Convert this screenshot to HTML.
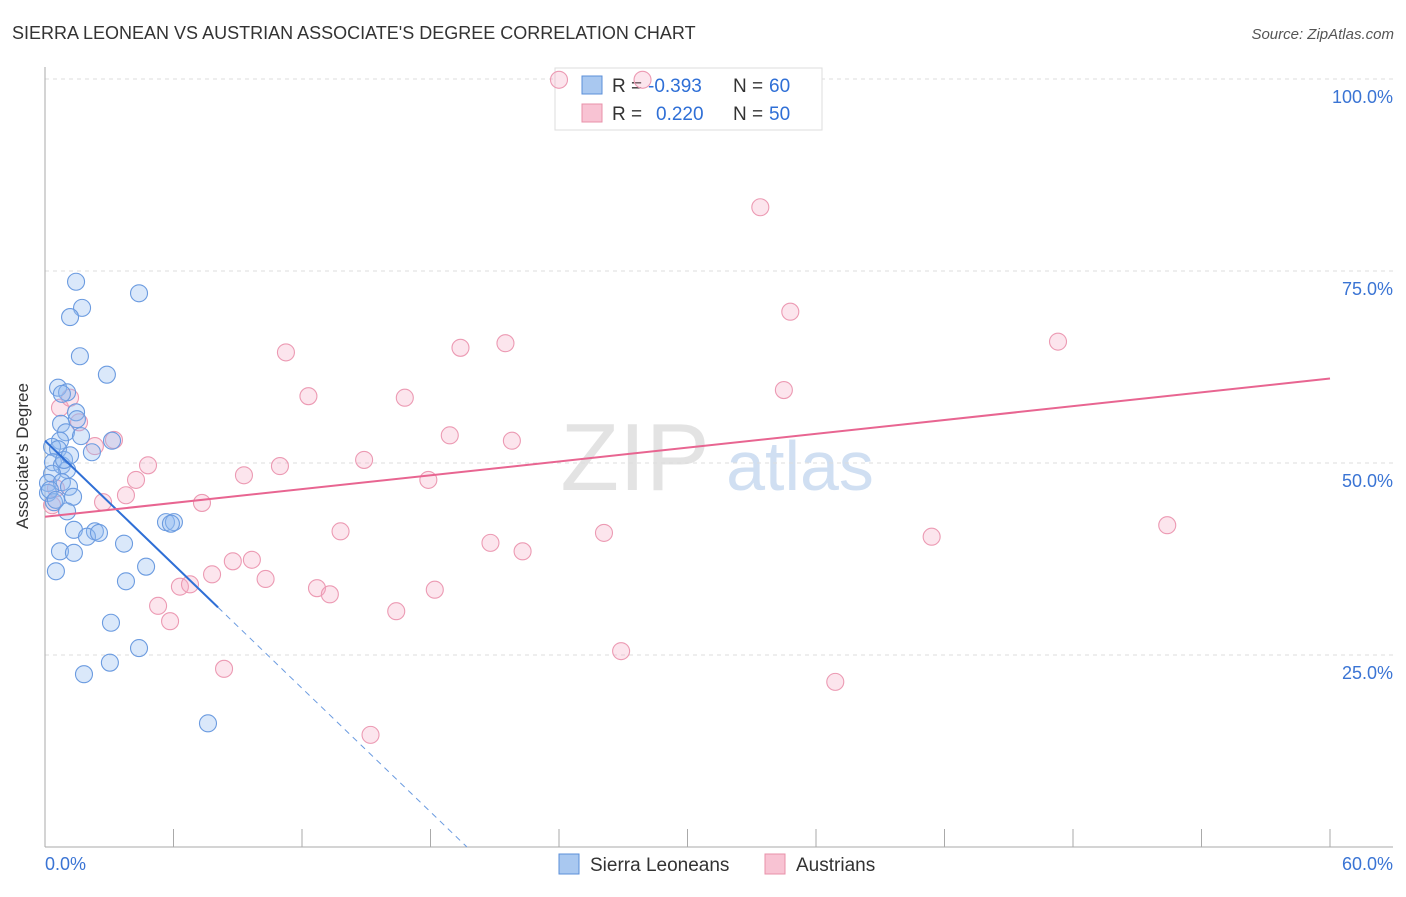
<!DOCTYPE html>
<html><head><meta charset="utf-8">
<style>
body{margin:0;background:#fff;font-family:"Liberation Sans",sans-serif;}
svg text{font-family:"Liberation Sans",sans-serif;}
</style></head>
<body>
<svg id="chart" width="1406" height="892" viewBox="0 0 1406 892" xmlns="http://www.w3.org/2000/svg">
<text x="12" y="39" font-size="18" fill="#333">SIERRA LEONEAN VS AUSTRIAN ASSOCIATE'S DEGREE CORRELATION CHART</text>
<text x="1394" y="39" font-size="15" fill="#555" font-style="italic" text-anchor="end">Source: ZipAtlas.com</text>
<g>
<text x="635" y="490" font-size="96" fill="#ddd" font-family="Liberation Serif" text-anchor="middle" opacity="0.8">ZIP</text>
<text x="800" y="490" font-size="70" fill="#c5d8f0" text-anchor="middle" opacity="0.8">atlas</text>
</g>
<g id="grid"></g>
<g id="axes"></g>
<g>
<rect x="555" y="68" width="267" height="62" fill="#fff" stroke="#ddd"/>
<rect x="582" y="76" width="20" height="18" fill="#a9c8f0" stroke="#5b8fd9"/>
<rect x="582" y="104" width="20" height="18" fill="#f8c3d3" stroke="#e890aa"/>
<text x="612" y="92" font-size="19" fill="#333">R =</text>
<text x="648" y="92" font-size="19" fill="#2f6fd6">-0.393</text>
<text x="733" y="92" font-size="19" fill="#333">N =</text>
<text x="769" y="92" font-size="19" fill="#2f6fd6">60</text>
<text x="612" y="120" font-size="19" fill="#333">R =</text>
<text x="656" y="120" font-size="19" fill="#2f6fd6">0.220</text>
<text x="733" y="120" font-size="19" fill="#333">N =</text>
<text x="769" y="120" font-size="19" fill="#2f6fd6">50</text>
</g>
<g id="points"></g>
<g id="trends"></g>
<text x="28" y="456" font-size="17" fill="#333" text-anchor="middle" transform="rotate(-90 28 456)">Associate's Degree</text>
<g>
<rect x="559" y="854" width="20" height="20" fill="#a9c8f0" stroke="#5b8fd9"/>
<text x="590" y="871" font-size="19" fill="#333">Sierra Leoneans</text>
<rect x="765" y="854" width="20" height="20" fill="#f8c3d3" stroke="#e890aa"/>
<text x="796" y="871" font-size="19" fill="#333">Austrians</text>
</g>
</svg>
<script>
const yTicks=[25,50,75,100];
const yTickLabels=["25.0%","50.0%","75.0%","100.0%"];
const xTickLabels=["0.0%","60.0%"];
const blueX=[1.45,4.39,1.73,1.17,1.63,2.89,0.61,1.03,0.79,1.45,1.49,0.75,0.98,1.68,3.13,0.70,0.33,0.61,2.19,0.37,0.79,1.03,0.33,0.14,0.79,1.12,0.14,1.31,0.42,1.03,1.35,5.65,6.02,5.88,2.33,1.96,2.52,3.69,0.70,1.35,0.51,3.78,4.72,3.08,4.39,3.03,1.82,7.61,0.23,0.51,0.89,1.17];
const blueY=[73.6,72.1,70.2,69.0,63.9,61.5,59.8,59.2,59.0,56.6,55.7,55.1,54.0,53.5,52.9,52.9,52.1,51.8,51.4,50.1,49.7,49.1,48.6,47.4,47.5,46.9,46.1,45.6,44.9,43.7,41.3,42.3,42.3,42.1,41.1,40.4,40.9,39.5,38.5,38.3,35.9,34.6,36.5,29.2,25.9,24.0,22.5,16.1,46.5,45.2,50.4,51.0];
const pinkX=[24.0,27.9,33.4,34.8,47.3,11.25,19.4,21.5,34.5,12.3,16.8,0.70,1.17,1.59,18.9,21.8,3.22,2.33,14.9,4.81,10.97,9.29,17.9,4.25,0.51,3.78,2.71,7.33,52.4,13.8,26.1,41.4,20.8,22.3,8.77,9.66,7.8,10.3,6.30,6.77,12.7,13.3,18.2,5.28,16.4,5.84,26.9,8.36,36.9,15.2,0.33];
const pinkY=[99.9,99.9,83.3,69.7,65.8,64.4,65.0,65.6,59.5,58.7,58.5,57.2,58.5,55.3,53.6,52.9,53.0,52.2,50.4,49.7,49.6,48.4,47.8,47.8,46.7,45.8,44.9,44.8,41.9,41.1,40.9,40.4,39.6,38.5,37.2,37.4,35.5,34.9,33.9,34.2,33.7,32.9,33.5,31.4,30.7,29.4,25.5,23.2,21.5,14.6,44.5];
const blueTrendX=[0,8.08,19.7];
const blueTrendY=[52.9,31.2,0];
const pinkTrendX=[0,60];
const pinkTrendY=[43.0,61.0];

const NS="http://www.w3.org/2000/svg";
const X0=45,X1=1330,Y0=847,Y100=79;
function sx(v){return X0+(v/60)*(X1-X0);}
function sy(v){return Y0-(v/100)*(Y0-Y100);}
function mk(tag,attrs,parent){const e=document.createElementNS(NS,tag);for(const k in attrs)e.setAttribute(k,attrs[k]);parent.appendChild(e);return e;}
const grid=document.getElementById('grid'),axes=document.getElementById('axes'),pts=document.getElementById('points'),tr=document.getElementById('trends');
yTicks.forEach((t,i)=>{
  const l=mk('line',{x1:X0,x2:1393,y1:sy(t),y2:sy(t),stroke:'#ddd','stroke-dasharray':'4,4'},grid);
  
  
  const tx=mk('text',{x:1393,y:sy(t)+24,'font-size':18,fill:'#3a74d4','text-anchor':'end'},axes);
  tx.textContent=yTickLabels[i];
  
  
});
let a=mk('line',{x1:X0,x2:X0,y1:67,y2:Y0,stroke:'#aaa'},axes);


a=mk('line',{x1:X0,x2:1393,y1:Y0,y2:Y0,stroke:'#aaa'},axes);


for(let i=0;i<=10;i++){
  const t=mk('line',{x1:sx(i*6),x2:sx(i*6),y1:Y0,y2:Y0-18,stroke:'#aaa'},axes);
  
  
}
let xl=mk('text',{x:X0,y:870,'font-size':18,fill:'#3a74d4'},axes);xl.textContent=xTickLabels[0];


xl=mk('text',{x:1393,y:870,'font-size':18,fill:'#3a74d4','text-anchor':'end'},axes);xl.textContent=xTickLabels[1];


pinkX.forEach((v,i)=>{
  const c=mk('circle',{cx:sx(v),cy:sy(pinkY[i]),r:8.5,fill:'rgba(245,170,195,0.3)',stroke:'#ec9ab3','stroke-width':1.1},pts);
  
  
});
blueX.forEach((v,i)=>{
  const c=mk('circle',{cx:sx(v),cy:sy(blueY[i]),r:8.5,fill:'rgba(150,190,240,0.35)',stroke:'#6b9be0','stroke-width':1.1},pts);
  
  
});
let l=mk('line',{x1:sx(blueTrendX[0]),y1:sy(blueTrendY[0]),x2:sx(blueTrendX[1]),y2:sy(blueTrendY[1]),stroke:'#2f6fd6','stroke-width':2},tr);


l=mk('line',{x1:sx(blueTrendX[1]),y1:sy(blueTrendY[1]),x2:sx(blueTrendX[2]),y2:sy(blueTrendY[2]),stroke:'#6b9be0','stroke-width':1,'stroke-dasharray':'6,5'},tr);


l=mk('line',{x1:sx(pinkTrendX[0]),y1:sy(pinkTrendY[0]),x2:sx(pinkTrendX[1]),y2:sy(pinkTrendY[1]),stroke:'#e86591','stroke-width':2},tr);


</script>
</body></html>
